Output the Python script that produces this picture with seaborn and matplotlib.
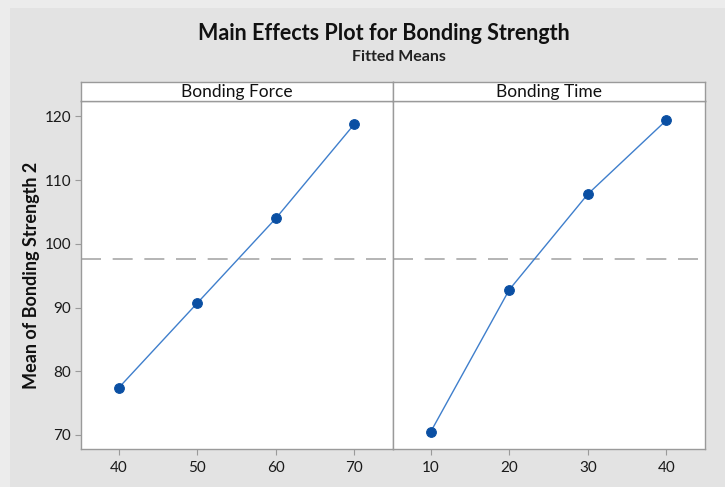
import matplotlib
matplotlib.use("Agg")
import matplotlib.pyplot as plt
from matplotlib.patches import Rectangle
import numpy as np
import pandas as pd
import seaborn as sns

# Fitted means for each factor level
force_levels = [40, 50, 60, 70]
force_means = [77.4, 90.7, 104.0, 118.8]
time_levels = [10, 20, 30, 40]
time_means = [70.5, 92.8, 107.8, 119.4]

factor_names = ["Bonding Force", "Bonding Time"]
y_ticks = [70, 80, 90, 100, 110, 120]

title = "Main Effects Plot for Bonding Strength"
subtitle = "Fitted Means"
y_label = "Mean of Bonding Strength 2"

grand_mean = np.mean(force_means + time_means)

sns.set_theme(style="white")
plt.rcParams["font.family"] = ["Lato", "DejaVu Sans"]

W, H = 725, 487
fig = plt.figure(figsize=(W / 100, H / 100), dpi=100)
fig.patch.set_facecolor("#ececec")
fig.add_artist(Rectangle((10 / W, 0), 1, 1 - 8 / H, transform=fig.transFigure,
                         facecolor="#e3e3e3", edgecolor="none", zorder=-10))

line_color = "#3f7fcc"
point_color = "#0a4fa3"
frame_color = "#9a9a9a"

def fx(px):
    return px / W

def fy(py):
    return 1 - py / H

panels = [
    (force_levels, force_means, 81, 393, (35.2, 74.9)),
    (time_levels, time_means, 393, 705, (5.2, 44.9)),
]
top, bottom, strip_top = 101, 449, 82

for i, (levels, means, x0, x1, xlim) in enumerate(panels):
    ax = fig.add_axes([fx(x0), fy(bottom), fx(x1 - x0), (bottom - top) / H])
    df = pd.DataFrame({"level": levels, "mean": means})
    sns.lineplot(data=df, x="level", y="mean", ax=ax, color=line_color, lw=1.0,
                 marker="o", markersize=7, markerfacecolor=point_color,
                 markeredgecolor=point_color)
    ax.axhline(grand_mean, color="#a8a8a8", lw=1.2, dashes=(12, 7), zorder=0)
    ax.set_xlim(*xlim)
    ax.set_ylim(67.8, 122.4)
    ax.set_xticks(levels)
    ax.set_xticklabels([str(v) for v in levels])
    ax.set_xlabel("")
    ax.set_facecolor("white")
    for s in ax.spines.values():
        s.set_color(frame_color)
        s.set_linewidth(1.0)
    ax.tick_params(axis="x", direction="out", length=4, width=0.8, color=frame_color,
                   labelsize=11, labelcolor="#1a1a1a", pad=5, bottom=True)
    if i == 0:
        ax.set_yticks(y_ticks)
        ax.tick_params(axis="y", direction="out", length=4, width=0.8, color=frame_color,
                       labelsize=11, labelcolor="#1a1a1a", pad=3, left=True)
        ax.set_ylabel(y_label, fontsize=13, fontweight="bold", color="#111111", labelpad=3)
    else:
        ax.set_yticks(y_ticks)
        ax.tick_params(axis="y", left=False, labelleft=False)
        ax.set_ylabel("")

    strip = fig.add_axes([fx(x0), fy(top), fx(x1 - x0), (top - strip_top) / H])
    strip.set_facecolor("white")
    strip.set_xticks([])
    strip.set_yticks([])
    for s in strip.spines.values():
        s.set_color(frame_color)
        s.set_linewidth(1.0)
    strip.text(0.5, 0.45, factor_names[i], ha="center", va="center",
               fontsize=12.5, color="#111111", transform=strip.transAxes)

fig.text(fx(384), fy(33), title, ha="center", va="center", fontsize=15.5,
         fontweight="bold", color="#111111")
fig.text(fx(399), fy(57), subtitle, ha="center", va="center", fontsize=11.5,
         fontweight="bold", color="#222222")

fig.savefig("out.png", dpi=100, facecolor=fig.get_facecolor())
